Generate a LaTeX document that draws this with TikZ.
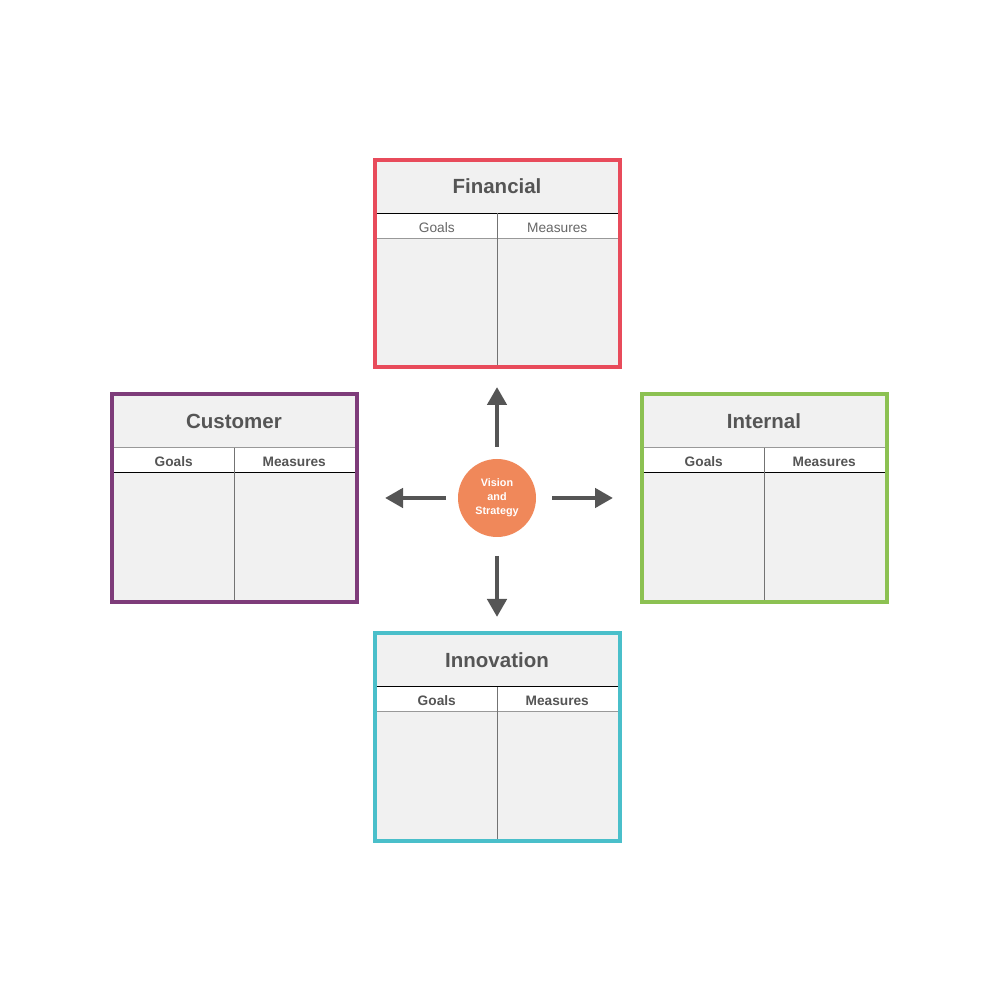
\documentclass[tikz,border=0pt]{standalone}
\usepackage{fontspec}
\setmainfont{Liberation Sans}
\usetikzlibrary{positioning,arrows.meta}

\definecolor{fincol}{HTML}{E84B5B}
\definecolor{cuscol}{HTML}{7E3C7A}
\definecolor{intcol}{HTML}{8CC152}
\definecolor{inncol}{HTML}{4ABFCA}
\definecolor{viscol}{HTML}{F0885A}
\definecolor{boxgray}{HTML}{F1F1F1}
\definecolor{txtgray}{HTML}{555555}

\tikzset{
	box/.style={draw, line width=4pt, fill=boxgray, minimum width=245pt, minimum height=207.5pt, inner sep=0pt, outer sep=0pt},
	title/.style={text=txtgray, text height=14.6pt, text depth=0pt, font=\fontsize{20.5}{24}\selectfont\bfseries},
	cell/.style={fill=white, minimum width=120.5pt, minimum height=25pt, inner sep=0pt, outer sep=0pt, text height=12.4pt, text depth=0pt, text=txtgray, font=\fontsize{13.7}{16}\selectfont\bfseries},
	plaincell/.style={cell, text=black!60, font=\fontsize{13.7}{16}\selectfont},
	rowline/.style={line width=1pt, black},
	rowlight/.style={line width=1pt, black!40},
	divider/.style={line width=1pt, black!55, shorten >=2pt},
	arr/.style={-{Triangle[width=19pt,length=18pt]}, line width=4.5pt, txtgray}
}

\begin{document}
\begin{tikzpicture}[x=1pt, y=1pt]
	\useasboundingbox (0,0) rectangle (1000,1000);

	\node[circle, fill=viscol, minimum size=78pt, inner sep=0pt, outer sep=0pt, text=white, align=center,
		font=\fontsize{10.8}{14}\selectfont\bfseries] (vs) at (497,502) {Vision\\and\\Strategy};

	\node[box, draw=fincol, above=91.5pt of vs] (fin) {};
	\node[box, draw=inncol, below=96.5pt of vs] (inn) {};
	\node[box, draw=cuscol, left=101.5pt of vs] (cus) {};
	\node[box, draw=intcol, right=105.5pt of vs] (int) {};

	% Financial
	\node[title] at ([yshift=-26.5pt]fin.north) {Financial};
	\node[plaincell, anchor=north east] (fing) at ([yshift=-53.5pt]fin.north) {Goals};
	\node[plaincell, right=0pt of fing] (finm) {Measures};
	\draw[rowline] (fing.north west) -- (finm.north east);
	\draw[rowlight] (fing.south west) -- (finm.south east);
	\draw[divider] (fing.north east) -- (fing.north east |- fin.south);

	% Customer
	\node[title] at ([yshift=-26.5pt]cus.north) {Customer};
	\node[cell, anchor=north east] (cusg) at ([yshift=-53.5pt]cus.north) {Goals};
	\node[cell, right=0pt of cusg] (cusm) {Measures};
	\draw[rowlight] (cusg.north west) -- (cusm.north east);
	\draw[rowline] (cusg.south west) -- (cusm.south east);
	\draw[divider] (cusg.north east) -- (cusg.north east |- cus.south);

	% Internal
	\node[title] at ([yshift=-26.5pt]int.north) {Internal};
	\node[cell, anchor=north east] (intg) at ([yshift=-53.5pt]int.north) {Goals};
	\node[cell, right=0pt of intg] (intm) {Measures};
	\draw[rowlight] (intg.north west) -- (intm.north east);
	\draw[rowline] (intg.south west) -- (intm.south east);
	\draw[divider] (intg.north east) -- (intg.north east |- int.south);

	% Innovation
	\node[title] at ([yshift=-26.5pt]inn.north) {Innovation};
	\node[cell, anchor=north east] (inng) at ([yshift=-53.5pt]inn.north) {Goals};
	\node[cell, right=0pt of inng] (innm) {Measures};
	\draw[rowline] (inng.north west) -- (innm.north east);
	\draw[rowlight] (inng.south west) -- (innm.south east);
	\draw[divider] (inng.north east) -- (inng.north east |- inn.south);

	% arrows
	\draw[arr, shorten <=12pt, shorten >=19.5pt] (vs) -- (vs |- fin.south);
	\draw[arr, shorten <=19pt, shorten >=16.5pt] (vs) -- (vs |- inn.north);
	\draw[arr, shorten <=12pt, shorten >=28.5pt] (vs) -- (vs -| cus.east);
	\draw[arr, shorten <=16pt, shorten >=28.5pt] (vs) -- (vs -| int.west);
\end{tikzpicture}
\end{document}
